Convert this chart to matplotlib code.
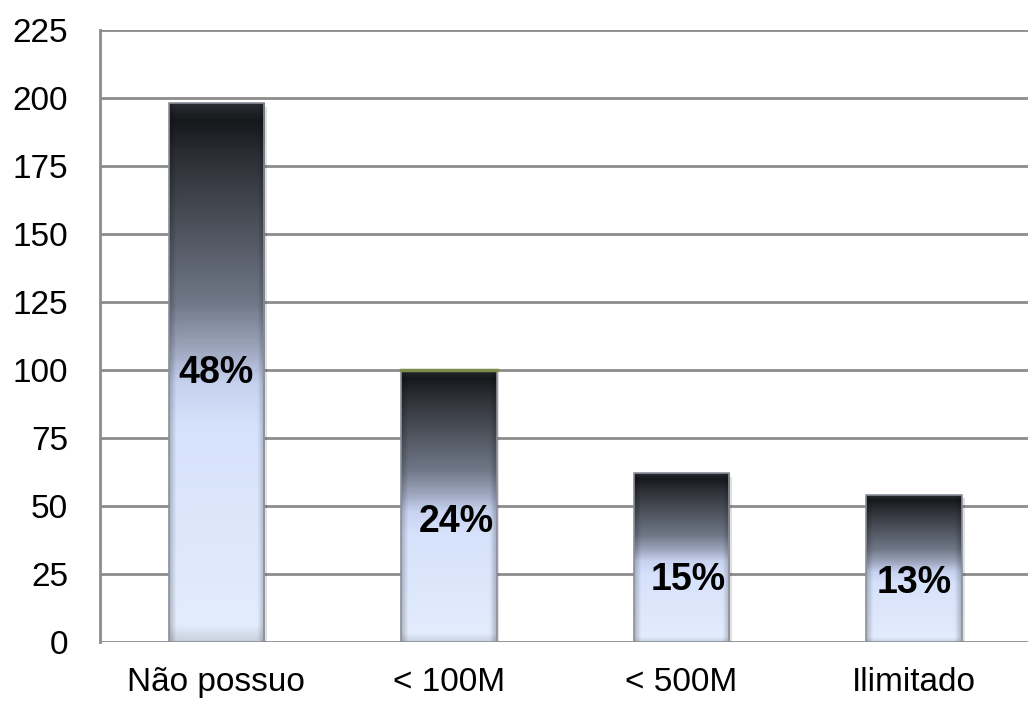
import numpy as np
import matplotlib
matplotlib.use('Agg')
import matplotlib.pyplot as plt
from matplotlib.colors import LinearSegmentedColormap
from matplotlib.patches import Rectangle

plt.rcParams['font.family'] = ['Liberation Sans', 'DejaVu Sans']

categorias = ['Não possuo', '< 100M', '< 500M', 'Ilimitado']
valores = [198, 100, 62, 54]
percentuais = ['48%', '24%', '15%', '13%']

# where each percentage sits, as a fraction of its bar height
label_frac = [0.50, 0.44, 0.37, 0.40]
label_dx = [0.0, 0.03, 0.03, 0.0]

fig = plt.figure(figsize=(10.28, 7.02), dpi=100)
ax = fig.add_axes([0.0973, 0.0855, 0.905, 0.872])

# vertical colour ramp: light blue at the base, near black at the top
ramp = LinearSegmentedColormap.from_list('ramp', [
    (0.00, '#e4edfd'),
    (0.40, '#d6e2fb'),
    (0.48, '#c6d2ef'),
    (0.54, '#a0a8c0'),
    (0.63, '#707888'),
    (0.76, '#50555f'),
    (0.91, '#2c2d34'),
    (0.97, '#17181c'),
    (1.00, '#2a2b30'),
])

largura = 0.41
ny, nx = 300, 60
t = np.linspace(0, 1, ny)[:, None]
img = ramp(np.repeat(t, nx, axis=1))[..., :3]
# darker bevel on the sides
s = np.linspace(0, 1, nx)
edge = np.minimum(s, 1 - s)
shade = 1 - 0.22 * np.clip(1 - edge / 0.07, 0, 1)
img = img * shade[None, :, None]
# soft rim at the very bottom
rim = np.clip(1 - t / 0.03, 0, 1)[:, :, None]
img = img * (1 - 0.12 * rim)

for i, v in enumerate(valores):
    x0 = i - largura / 2
    # drop shadow
    ax.add_patch(Rectangle((x0 + 0.012, -1.2), largura, v, facecolor='#000000',
                           alpha=0.12, linewidth=0, zorder=2))
    ax.imshow(img, extent=[x0, x0 + largura, 0, v], origin='lower',
              aspect='auto', interpolation='bilinear', zorder=3)
    ax.add_patch(Rectangle((x0, 0), largura, v, facecolor='none',
                           edgecolor='#8a8f99', linewidth=1.2, zorder=4))
    ax.text(i + label_dx[i], v * label_frac[i], percentuais[i], ha='center',
            va='center', fontsize=27, fontweight='bold', color='black', zorder=5)

# thin olive rim on the second bar
ax.plot([1 - largura / 2, 1 + largura / 2], [valores[1], valores[1]],
        color='#7d8c4a', linewidth=2.5, zorder=5)

ax.set_xlim(-0.5, 3.5)
ax.set_ylim(0, 225)
ax.set_yticks(np.arange(0, 226, 25))
ax.set_xticks(range(len(categorias)))
ax.set_xticklabels(categorias)
ax.yaxis.grid(True, color='#8c8c8c', linewidth=2)
ax.set_axisbelow(True)
ax.tick_params(axis='both', length=0, colors='black')
ax.tick_params(axis='y', pad=23, labelsize=24)
ax.tick_params(axis='x', pad=18, labelsize=24)
for lado in ['top', 'right', 'bottom']:
    ax.spines[lado].set_visible(False)
ax.spines['left'].set_color('#8c8c8c')
ax.spines['left'].set_linewidth(2)

plt.savefig('out.png', dpi=100)
